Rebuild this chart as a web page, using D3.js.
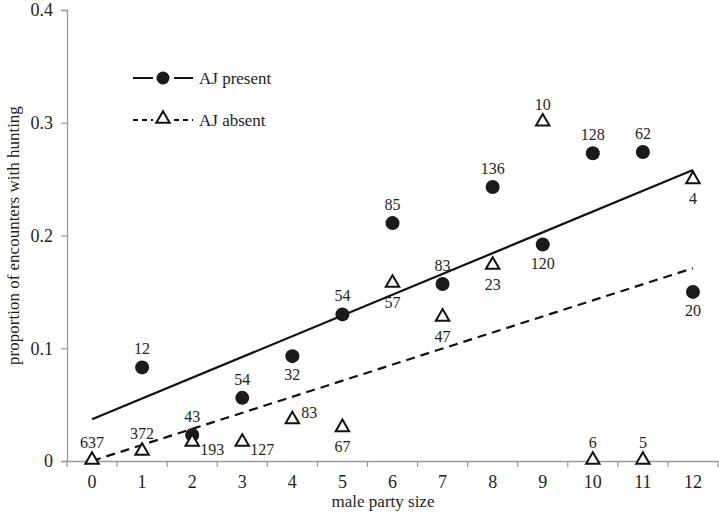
<!DOCTYPE html>
<html>
<head>
  <style>
    body { margin: 0; padding: 0; background: #fff; }
    svg { display: block; }
    svg text { font-family: "Liberation Serif", "Times New Roman", serif; }
  </style>
</head>
<body>
  <div id="chart"></div>
  <script src="https://cdnjs.cloudflare.com/ajax/libs/d3/7.8.5/d3.min.js"></script>
  <script>
    // party sizes on the x axis
    const partySizes = [0, 1, 2, 3, 4, 5, 6, 7, 8, 9, 10, 11, 12];
    const yTicks = [0, 0.1, 0.2, 0.3, 0.4];

    // AJ present (filled circles), no point at size 0
    const presentX = [1, 2, 3, 4, 5, 6, 7, 8, 9, 10, 11, 12];
    const presentY = [0.083, 0.023, 0.056, 0.093, 0.130, 0.211, 0.157, 0.243, 0.192, 0.273, 0.274, 0.150];
    const presentN = [12, 43, 54, 32, 54, 85, 83, 136, 120, 128, 62, 20];
    const presentLabelPos = ['above', 'above', 'above', 'below', 'above', 'above', 'above', 'above', 'below', 'above', 'above', 'below'];

    // AJ absent (open triangles)
    const absentX = [0, 1, 2, 3, 4, 5, 6, 7, 8, 9, 10, 11, 12];
    const absentY = [0.0, 0.008, 0.016, 0.016, 0.036, 0.029, 0.157, 0.127, 0.173, 0.300, 0.0, 0.0, 0.249];
    const absentN = [637, 372, 193, 127, 83, 67, 57, 47, 23, 10, 6, 5, 4];
    const absentLabelPos = ['above', 'above', 'right', 'right', 'upright', 'below', 'below', 'below', 'below', 'above', 'above', 'above', 'below'];

    // fitted lines (endpoints at size 0 and 12)
    const presentFit = [0.037, 0.258];
    const absentFit = [0.0, 0.171];

    const width = 719, height = 515;
    const margin = { top: 10, right: 1, bottom: 54, left: 67 };
    const serif = '"Liberation Serif", "Times New Roman", serif';

    const svg = d3.select('#chart').append('svg')
      .attr('width', width)
      .attr('height', height)
      .attr('font-family', serif);

    const x = d3.scaleBand()
      .domain(partySizes)
      .range([margin.left, width - margin.right]);
    const cx = v => x(v) + x.bandwidth() / 2;

    const y = d3.scaleLinear()
      .domain([0, 0.4])
      .range([height - margin.bottom, margin.top]);

    const axisColor = '#9a9a9a';
    const textColor = '#231f20';

    // x axis
    const xAxis = svg.append('g')
      .attr('transform', `translate(0,${y(0)})`)
      .call(d3.axisBottom(x).tickSize(0).tickPadding(14));
    xAxis.attr('font-family', serif).attr('font-size', 18);
    xAxis.select('.domain').attr('stroke', axisColor).attr('stroke-width', 1.3);
    xAxis.selectAll('text').attr('fill', textColor);
    // ticks at band boundaries
    xAxis.selectAll('.bound')
      .data(partySizes)
      .enter().append('line')
      .attr('x1', d => x(d) + x.bandwidth())
      .attr('x2', d => x(d) + x.bandwidth())
      .attr('y1', 0).attr('y2', 6)
      .attr('stroke', axisColor).attr('stroke-width', 1.2);
    xAxis.append('line')
      .attr('x1', x(0)).attr('x2', x(0)).attr('y1', 0).attr('y2', 6)
      .attr('stroke', axisColor).attr('stroke-width', 1.2);

    // y axis
    const yAxis = svg.append('g')
      .attr('transform', `translate(${margin.left},0)`)
      .call(d3.axisLeft(y).tickValues(yTicks).tickSize(6).tickPadding(8)
        .tickFormat(d => d === 0 ? '0' : d3.format('.1f')(d)));
    yAxis.attr('font-family', serif).attr('font-size', 18);
    yAxis.select('.domain').attr('stroke', axisColor).attr('stroke-width', 1.3);
    yAxis.selectAll('.tick line').attr('stroke', axisColor).attr('stroke-width', 1.2);
    yAxis.selectAll('text').attr('fill', textColor);

    // axis titles
    svg.append('text')
      .attr('x', (margin.left + width) / 2 - 10)
      .attr('y', height - 8)
      .attr('text-anchor', 'middle')
      .attr('font-size', 17)
      .attr('fill', textColor)
      .text('male party size');

    svg.append('text')
      .attr('transform', `translate(19,${y(0.2)}) rotate(-90)`)
      .attr('text-anchor', 'middle')
      .attr('font-size', 17)
      .attr('fill', textColor)
      .text('proportion of encounters with hunting');

    // regression lines
    svg.append('line')
      .attr('x1', cx(0)).attr('y1', y(presentFit[0]))
      .attr('x2', cx(12)).attr('y2', y(presentFit[1]))
      .attr('stroke', '#111').attr('stroke-width', 2.2);
    svg.append('line')
      .attr('x1', cx(0)).attr('y1', y(absentFit[0]))
      .attr('x2', cx(12)).attr('y2', y(absentFit[1]))
      .attr('stroke', '#111').attr('stroke-width', 2.2)
      .attr('stroke-dasharray', '9,6');

    const tri = d3.symbol().type(d3.symbolTriangle).size(78);

    // circles
    svg.selectAll('.present')
      .data(presentX)
      .enter().append('circle')
      .attr('cx', d => cx(d))
      .attr('cy', (d, i) => y(presentY[i]))
      .attr('r', 7)
      .attr('fill', '#1a1a1a');

    // triangles
    svg.selectAll('.absent')
      .data(absentX)
      .enter().append('path')
      .attr('d', tri)
      .attr('transform', (d, i) => `translate(${cx(d)},${y(absentY[i]) - 1})`)
      .attr('fill', 'white')
      .attr('stroke', '#111')
      .attr('stroke-width', 2);

    function placeLabel(px, py, pos) {
      if (pos === 'above') return { x: px, y: py - 13, anchor: 'middle' };
      if (pos === 'below') return { x: px, y: py + 24, anchor: 'middle' };
      if (pos === 'right') return { x: px + 8, y: py + 12, anchor: 'start' };
      return { x: px + 9, y: py - 2, anchor: 'start' };
    }

    function drawLabels(xs, ys, ns, poss) {
      xs.forEach((d, i) => {
        const p = placeLabel(cx(d), y(ys[i]), poss[i]);
        svg.append('text')
          .attr('x', p.x).attr('y', p.y)
          .attr('text-anchor', p.anchor)
          .attr('font-size', 16)
          .attr('fill', textColor)
          .text(ns[i]);
      });
    }
    drawLabels(presentX, presentY, presentN, presentLabelPos);
    drawLabels(absentX, absentY, absentN, absentLabelPos);

    // legend
    const legend = svg.append('g').attr('transform', 'translate(133,0)');
    legend.append('line').attr('x1', 0).attr('x2', 20).attr('y1', 78).attr('y2', 78)
      .attr('stroke', '#111').attr('stroke-width', 2);
    legend.append('line').attr('x1', 41).attr('x2', 60).attr('y1', 78).attr('y2', 78)
      .attr('stroke', '#111').attr('stroke-width', 2);
    legend.append('circle').attr('cx', 30).attr('cy', 78).attr('r', 6.5).attr('fill', '#1a1a1a');
    legend.append('text').attr('x', 66).attr('y', 84).attr('font-size', 17).attr('fill', textColor).text('AJ present');

    legend.append('line').attr('x1', 0).attr('x2', 20).attr('y1', 120).attr('y2', 120)
      .attr('stroke', '#111').attr('stroke-width', 2).attr('stroke-dasharray', '5,4');
    legend.append('line').attr('x1', 41).attr('x2', 60).attr('y1', 120).attr('y2', 120)
      .attr('stroke', '#111').attr('stroke-width', 2).attr('stroke-dasharray', '5,4');
    legend.append('path').attr('d', tri).attr('transform', 'translate(30,119)')
      .attr('fill', 'white').attr('stroke', '#111').attr('stroke-width', 2);
    legend.append('text').attr('x', 66).attr('y', 126).attr('font-size', 17).attr('fill', textColor).text('AJ absent');
  </script>
</body>
</html>
